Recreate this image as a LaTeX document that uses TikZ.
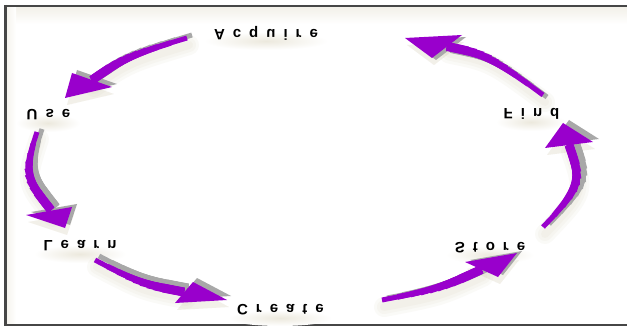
\documentclass[tikz,border=0pt]{standalone}
\usepackage{fontspec}
\setmainfont{Liberation Sans}
\usetikzlibrary{calc}
\definecolor{arrowpurple}{RGB}{153,0,204}
\definecolor{arrowgray}{RGB}{168,168,168}
\definecolor{framegray}{RGB}{70,70,70}
\definecolor{haze}{RGB}{196,186,150}

% letter-spaced word: a fixed kern between consecutive letters
\makeatletter
\def\spreadletters#1{\spread@loop#1\relax}
\def\spread@loop#1#2{#1\ifx\relax#2\else\kern8pt\expandafter\spread@loop\expandafter#2\fi}
\makeatother
% words are printed mirrored top to bottom
\newcommand\flipword[1]{\scalebox{1}[-1]{\spreadletters{#1}}}

\tikzset{
  cyclelabel/.style={inner sep=0pt, font=\bfseries\fontsize{15}{15}\selectfont},
  labelglow/.style={inner color=haze!32, outer color=white},
}

% shaft that widens from tail to head: the tail part of a quadratic
% curve is overdrawn by thicker pieces of the same curve
\newcommand\taperedshaft[2]{%
  \draw[#2, line width=5pt] (#1t) .. controls (#1c) .. (#1m);
  \foreach \a/\w in {0.1/5.5,0.2/6,0.3/6.5,0.4/7,0.5/7.5,0.6/8,0.7/8.5,0.8/9}{%
    \path (#1t) .. controls (#1c) .. (#1m) coordinate[pos=\a] (piece);
    \draw[#2, line width=\w pt] (piece) .. controls ($(#1c)!\a!(#1m)$) .. (#1m);}
}

% curved block arrow: prefix #1 names the coordinates
% #1t tail, #1c control, #1m head base, #1l/#1r head corners, #1h tip
% #2 offset of the grey drop copy
\newcommand\cyclearrow[2]{%
  \begin{scope}[transform canvas={shift={(2,7)}}]
    \foreach \w in {20,14,8}{%
      \draw[haze, opacity=0.07, line width=\w pt, line cap=round] (#1t) .. controls (#1c) .. (#1m);
      \fill[haze, opacity=0.07] (#1l) -- (#1h) -- (#1r) -- cycle;}
  \end{scope}
  \begin{scope}[transform canvas={shift={#2}}]
    \taperedshaft{#1}{arrowgray}
    \fill[arrowgray] (#1l) -- (#1h) -- (#1r) -- cycle;
  \end{scope}
  \taperedshaft{#1}{arrowpurple}
  \fill[arrowpurple] (#1l) -- (#1h) -- (#1r) -- cycle;
}

\begin{document}
\begin{tikzpicture}[x=1pt, y=-1pt]
\useasboundingbox (0,0) rectangle (627,326);
\fill[white] (0,0) rectangle (627,326);

% panel with a soft inner edge below the top rule
\shade[top color=haze!22, bottom color=white] (6,6.5) rectangle (627,24);
\shade[left color=haze!18, right color=white] (6,6.5) rectangle (16,324);
\draw[framegray, line width=2pt] (4,5.8) -- (627,5.8);
\draw[framegray, line width=2.4pt] (5.4,5) -- (5.4,325.6);
\draw[framegray, line width=2pt] (4,325) -- (627,325);

% soft glow under the labels
\shade[labelglow] (266,41) ellipse (62 and 9);
\shade[labelglow] (48,123) ellipse (32 and 9);
\shade[labelglow] (80,254) ellipse (46 and 9);
\shade[labelglow] (280,318) ellipse (52 and 8);
\shade[labelglow] (490,255) ellipse (44 and 9);
\shade[labelglow] (531,122) ellipse (35 and 9);

% labels of the cycle
\node[cyclelabel] (acquire) at (266,33)   {\flipword{Acquire}};
\node[cyclelabel] (use)     at (48.5,115) {\flipword{Use}};
\node[cyclelabel] (learn)   at (80,246)   {\flipword{Learn}};
\node[cyclelabel] (create)  at (280.5,310){\flipword{Create}};
\node[cyclelabel] (store)   at (490,247.5){\flipword{Store}};
\node[cyclelabel] (find)    at (531.5,114){\flipword{Find}};

% Acquire -> Use
\coordinate (aut) at (187,38);  \coordinate (auc) at (127,56);
\coordinate (aum) at (92,80);   \coordinate (aul) at (72,73);
\coordinate (auh) at (65,98);   \coordinate (aur) at (112,87);
% Use -> Learn
\coordinate (ult) at (37,132);  \coordinate (ulc) at (23,175);
\coordinate (ulm) at (51,210);  \coordinate (ull) at (26,215);
\coordinate (ulh) at (65,228);  \coordinate (ulr) at (72,207);
% Learn -> Create
\coordinate (lct) at (95,260);  \coordinate (lcc) at (141,284);
\coordinate (lcm) at (184,292); \coordinate (lcl) at (193,282);
\coordinate (lch) at (227,300); \coordinate (lcr) at (175,303);
% Create -> Store
\coordinate (cst) at (382,300); \coordinate (csc) at (439,289);
\coordinate (csm) at (481.5,269.5); \coordinate (csl) at (465,262);
\coordinate (csh) at (517,253); \coordinate (csr) at (498,277);
% Store -> Find
\coordinate (sft) at (543,227); \coordinate (sfc) at (583,185);
\coordinate (sfm) at (569,145); \coordinate (sfl) at (545,148);
\coordinate (sfh) at (563,123); \coordinate (sfr) at (593,142);
% Find -> Acquire
\coordinate (fat) at (543,95);  \coordinate (fac) at (489,55);
\coordinate (fam) at (447,46.5);\coordinate (fal) at (432,58);
\coordinate (fah) at (405,38);  \coordinate (far) at (462,35);

\cyclearrow{au}{(5,-3)}
\cyclearrow{ul}{(5,-3)}
\cyclearrow{lc}{(4,-4)}
\cyclearrow{cs}{(5,-2)}
\cyclearrow{sf}{(6,-3)}
\cyclearrow{fa}{(4,2)}
\end{tikzpicture}
\end{document}
